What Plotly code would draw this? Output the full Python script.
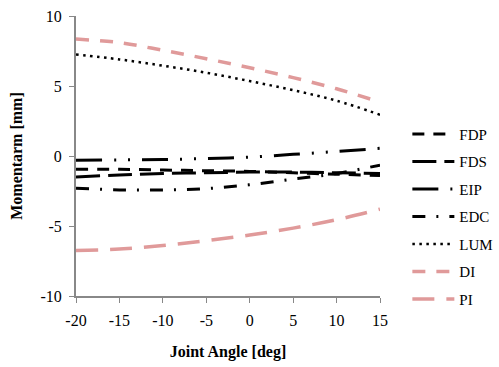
import plotly.graph_objects as go

angle = [-20, -15, -10, -5, 0, 5, 10, 15]
FDP = [-0.95, -0.95, -1.0, -1.05, -1.1, -1.2, -1.3, -1.4]
FDS = [-1.5, -1.35, -1.25, -1.2, -1.15, -1.15, -1.2, -1.25]
EIP = [-0.3, -0.28, -0.25, -0.18, -0.08, 0.12, 0.32, 0.55]
EDC = [-2.3, -2.42, -2.42, -2.33, -2.05, -1.65, -1.25, -0.65]
LUM = [7.25, 6.9, 6.45, 5.95, 5.35, 4.7, 3.95, 2.95]
DI = [8.35, 8.1, 7.55, 6.95, 6.3, 5.6, 4.8, 3.85]
PI = [-6.75, -6.65, -6.4, -6.05, -5.65, -5.15, -4.55, -3.8]

x_ticks = [-20, -15, -10, -5, 0, 5, 10, 15]
x_labels = ["-20", "-15", "-10", "-5", "0", "5", "10", "15"]
y_ticks = [-10, -5, 0, 5, 10]
y_labels = ["-10", "-5", "0", "5", "10"]

BLACK = "#000000"
PINK = "#E09A9A"

series = [
    ("FDP", FDP, BLACK, 3, "12px,9px"),
    ("FDS", FDS, BLACK, 3, "24px,8px"),
    ("EIP", EIP, BLACK, 3, "26px,12px,2px,12px,2px,12px"),
    ("EDC", EDC, BLACK, 3, "13px,11px,2px,11px"),
    ("LUM", LUM, BLACK, 2.5, "2.5px,4.5px"),
    ("DI", DI, PINK, 3.5, "13px,11px"),
    ("PI", PI, PINK, 3.5, "22px,12px"),
]

fig = go.Figure()
for name, vals, color, w, dash in series:
    fig.add_trace(go.Scatter(
        x=angle, y=vals, name=name, mode="lines", legendgroup=name,
        line=dict(color=color, width=w, dash=dash, shape="spline"),
    ))

SERIF = "Liberation Serif"
axis_font = dict(family=SERIF, size=16, color="#000000")
title_font = dict(family=SERIF, size=16, color="#000000")
fig.update_layout(
    width=499, height=367,
    margin=dict(l=75.5, r=119, t=16, b=71, autoexpand=False),
    plot_bgcolor="white", paper_bgcolor="white",
    font=dict(family=SERIF, size=15, color="#000000"),
    showlegend=True,
    legend=dict(
        x=1.09, y=0.637, xanchor="left", yanchor="top",
        font=dict(family=SERIF, size=15, color="#000000"),
        tracegroupgap=5, itemwidth=42, bgcolor="rgba(0,0,0,0)",
    ),
    xaxis=dict(
        range=[-20, 15], tickvals=x_ticks, ticktext=x_labels, ticks="outside", ticklen=5,
        tickcolor="#888888", showline=True, linecolor="#888888", linewidth=2,
        showgrid=False, zeroline=False, tickfont=axis_font, ticklabelstandoff=4,
        title=dict(text="<b>Joint Angle [deg]</b>", font=title_font, standoff=18),
    ),
    yaxis=dict(
        range=[-10, 10], tickvals=y_ticks, ticktext=y_labels, ticks="outside", ticklen=5,
        tickcolor="#888888", showline=True, linecolor="#888888", linewidth=2,
        showgrid=False, zeroline=False, tickfont=axis_font, ticklabelstandoff=4,
        title=dict(text="<b>Momentarm [mm]</b>", font=title_font, standoff=14),
    ),
)

fig.write_html("out.html")
